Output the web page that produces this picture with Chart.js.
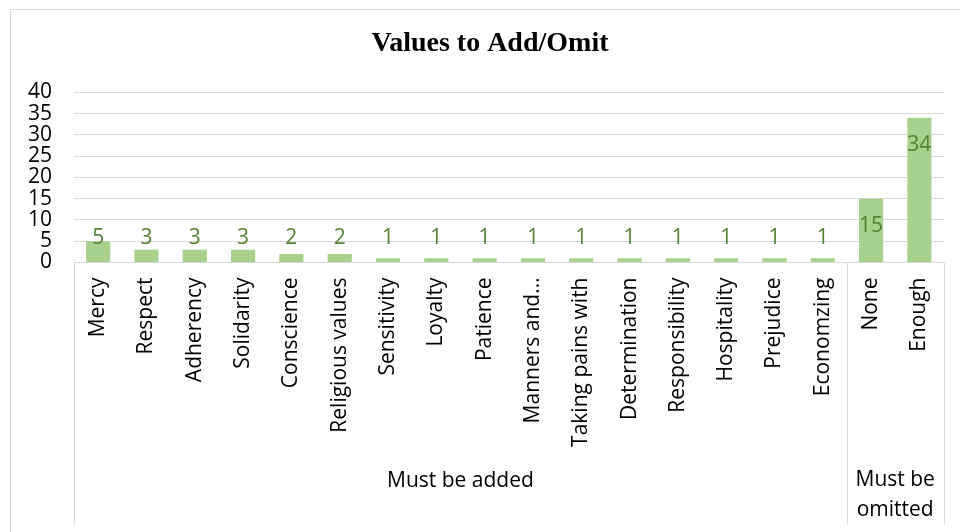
<!DOCTYPE html>
<html>
<head>
<meta charset="utf-8">
<style>
html,body{margin:0;padding:0;background:#fff;}
#wrap{position:relative;width:960px;height:532px;}
</style>
<script src="https://cdn.jsdelivr.net/npm/chart.js@4"></script>
</head>
<body>
<div id="wrap"><canvas id="c" width="960" height="532"></canvas></div>
<script>
const categories = ["Mercy","Respect","Adherency","Solidarity","Conscience","Religious values","Sensitivity","Loyalty","Patience","Manners and\u2026","Taking pains with","Determination","Responsibility","Hospitality","Prejudice","Economzing","None","Enough"];
const values = [5,3,3,3,2,2,1,1,1,1,1,1,1,1,1,1,15,34];
const groups = [
  {label:["Must be added"], start:0, end:15},
  {label:["Must be","omitted"], start:16, end:17}
];
const yTicks = {min:0, max:40, step:5};
const titleText = "Values to Add/Omit";

const LINE = '#d9d9d9';
const FONT = '"Open Sans", sans-serif';

const decorPlugin = {
  id:'decor',
  beforeDraw(chart){
    const ctx = chart.ctx;
    ctx.save();
    ctx.strokeStyle = LINE;
    ctx.lineWidth = 1;
    ctx.beginPath();
    ctx.moveTo(10.5, 532); ctx.lineTo(10.5, 9.5); ctx.lineTo(960, 9.5);
    ctx.stroke();
    ctx.fillStyle = '#000';
    ctx.font = 'bold 28px "Liberation Serif", "Times New Roman", serif';
    ctx.textAlign = 'center';
    ctx.textBaseline = 'middle';
    ctx.fillText(titleText, 490, 44);
    ctx.restore();
  },
  afterDraw(chart){
    const ctx = chart.ctx;
    const x = chart.scales.x;
    const area = chart.chartArea;
    const bottom = 525;
    const half = (x.getPixelForValue(1) - x.getPixelForValue(0)) / 2;
    ctx.save();
    ctx.strokeStyle = LINE;
    ctx.lineWidth = 1;
    const bounds = [x.left];
    groups.forEach(g => bounds.push(x.getPixelForValue(g.end) + half));
    ctx.beginPath();
    bounds.forEach(b => { const bx = Math.round(b) + 0.5; ctx.moveTo(bx, area.bottom); ctx.lineTo(bx, bottom); });
    ctx.stroke();
    ctx.fillStyle = '#000';
    ctx.font = '21px ' + FONT;
    ctx.textAlign = 'center';
    ctx.textBaseline = 'middle';
    groups.forEach(g => {
      const l = x.getPixelForValue(g.start) - half;
      const r = x.getPixelForValue(g.end) + half;
      const cx = (l + r) / 2;
      const n = g.label.length;
      const lh = 30;
      const cy = n === 1 ? 481 : 495;
      g.label.forEach((t, i) => ctx.fillText(t, cx, cy - (n - 1) * lh / 2 + i * lh));
    });
    ctx.restore();
  },
  afterDatasetsDraw(chart){
    const ctx = chart.ctx;
    const meta = chart.getDatasetMeta(0);
    const base = chart.scales.y.getPixelForValue(0);
    ctx.save();
    ctx.fillStyle = '#548235';
    ctx.font = '21px ' + FONT;
    ctx.textAlign = 'center';
    ctx.textBaseline = 'middle';
    meta.data.forEach((bar, i) => {
      const y = Math.min(bar.y + 27, base - 24);
      ctx.fillText(String(values[i]), bar.x, y);
    });
    ctx.restore();
  }
};

new Chart(document.getElementById('c'), {
  type:'bar',
  data:{
    labels:categories,
    datasets:[{data:values, backgroundColor:'#a9d18e', borderWidth:0, barPercentage:0.5, categoryPercentage:1}]
  },
  options:{
    responsive:false,
    animation:false,
    layout:{padding:{left:0, right:16, top:92.3, bottom:7}},
    plugins:{
      legend:{display:false},
      tooltip:{enabled:false},
      title:{display:false}
    },
    scales:{
      x:{
        grid:{display:false, drawTicks:false},
        border:{display:true, color:LINE},
        ticks:{color:'#000', font:{family:FONT, size:21}, minRotation:90, maxRotation:90, autoSkip:false, padding:15},
        afterFit(s){ s.height = 262.5; }
      },
      y:{
        min:yTicks.min, max:yTicks.max,
        grid:{color:LINE, drawTicks:false},
        border:{display:false},
        ticks:{stepSize:yTicks.step, autoSkip:false, color:'#000', font:{family:FONT, size:21}, padding:22},
        afterFit(s){ s.width = 74; }
      }
    }
  },
  plugins:[decorPlugin]
});
</script>
</body>
</html>
